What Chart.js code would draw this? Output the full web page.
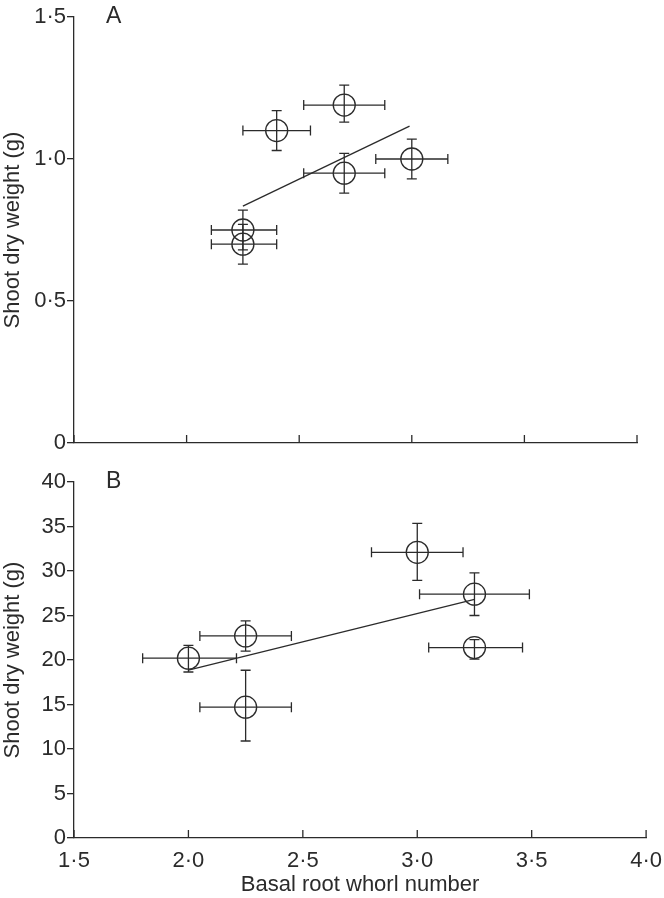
<!DOCTYPE html>
<html lang="en">
<head>
<meta charset="UTF-8">
<title>Shoot dry weight vs basal root whorl number</title>
<script src="https://cdn.jsdelivr.net/npm/chart.js@4.4.1/dist/chart.umd.min.js"></script>
<style>
    html, body { margin: 0; padding: 0; background: #fff; }
    #wrap { position: relative; width: 664px; height: 898px; }
    #wrap canvas { position: absolute; left: 0; }
    #chartA { top: 0; }
    #chartB { top: 460px; }
</style>
</head>
<body>
<div id="wrap">
    <canvas id="chartA" width="664" height="460"></canvas>
    <canvas id="chartB" width="664" height="438"></canvas>
</div>

<script>
// ---- panel A ----
const xA    = [2.25, 2.25, 2.40, 2.70, 2.70, 3.00];
const yA    = [0.75, 0.70, 1.10, 1.19, 0.95, 1.00];
const xLoA  = [2.11, 2.11, 2.25, 2.52, 2.52, 2.84];
const xHiA  = [2.40, 2.40, 2.55, 2.88, 2.88, 3.16];
const yLoA  = [0.68, 0.63, 1.03, 1.13, 0.88, 0.93];
const yHiA  = [0.82, 0.77, 1.17, 1.26, 1.02, 1.07];
const fitXA = [2.25, 2.99];
const fitYA = [0.834, 1.116];
const yTicksA = [0, 0.5, 1.0, 1.5];

// ---- panel B ----
const xB    = [2.00, 2.25, 2.25, 3.00, 3.25, 3.25];
const yB    = [20.2, 22.7, 14.7, 32.1, 27.4, 21.4];
const xLoB  = [1.80, 2.05, 2.05, 2.80, 3.01, 3.05];
const xHiB  = [2.21, 2.45, 2.45, 3.20, 3.49, 3.46];
const yLoB  = [18.65, 21.0, 10.9, 28.95, 25.0, 20.1];
const yHiB  = [21.65, 24.4, 18.85, 35.35, 29.8, 22.3];
const fitXB = [2.00, 3.25];
const fitYB = [18.85, 26.8];
const yTicksB = [0, 5, 10, 15, 20, 25, 30, 35, 40];

const xTicks = [1.5, 2.0, 2.5, 3.0, 3.5, 4.0];

const ink = '#2b2b2b';
const fam = '"Liberation Sans", Arial, Helvetica, sans-serif';

function dotNum(v) {
    if (v === 0) return '0';
    return v.toFixed(1).replace('.', '\u00b7');
}

// error bars + inward x ticks + panel letter
function panelPlugin(letter, xs, ys, xLo, xHi, yLo, yHi) {
    return {
        id: 'panel' + letter,
        beforeDatasetsDraw(chart) {
            const ctx = chart.ctx;
            const sx = chart.scales.x, sy = chart.scales.y;
            const cap = 5;
            ctx.save();
            ctx.strokeStyle = ink;
            ctx.lineWidth = 1.3;
            for (let i = 0; i < xs.length; i++) {
                const px = sx.getPixelForValue(xs[i]);
                const py = sy.getPixelForValue(ys[i]);
                const x1 = sx.getPixelForValue(xLo[i]);
                const x2 = sx.getPixelForValue(xHi[i]);
                const y1 = sy.getPixelForValue(yLo[i]);
                const y2 = sy.getPixelForValue(yHi[i]);
                ctx.beginPath();
                ctx.moveTo(x1, py); ctx.lineTo(x2, py);
                ctx.moveTo(x1, py - cap); ctx.lineTo(x1, py + cap);
                ctx.moveTo(x2, py - cap); ctx.lineTo(x2, py + cap);
                ctx.moveTo(px, y1); ctx.lineTo(px, y2);
                ctx.moveTo(px - cap, y1); ctx.lineTo(px + cap, y1);
                ctx.moveTo(px - cap, y2); ctx.lineTo(px + cap, y2);
                ctx.stroke();
            }
            ctx.restore();
        },
        afterDraw(chart) {
            const ctx = chart.ctx;
            const sx = chart.scales.x;
            const area = chart.chartArea;
            ctx.save();
            ctx.strokeStyle = ink;
            ctx.lineWidth = 1.3;
            ctx.beginPath();
            sx.ticks.forEach(t => {
                const px = sx.getPixelForValue(t.value);
                ctx.moveTo(px, area.bottom);
                ctx.lineTo(px, area.bottom - 8);
            });
            ctx.stroke();
            ctx.fillStyle = ink;
            ctx.font = '23px ' + fam;
            ctx.textBaseline = 'middle';
            ctx.textAlign = 'left';
            ctx.fillText(letter, area.left + 32, area.top);
            ctx.restore();
        }
    };
}

function makePanel(id, letter, xs, ys, xLo, xHi, yLo, yHi, fitX, fitY, yTicks, cfg) {
    const pts = xs.map((x, i) => ({ x: x, y: ys[i] }));
    const fit = fitX.map((x, i) => ({ x: x, y: fitY[i] }));
    return new Chart(document.getElementById(id), {
        type: 'scatter',
        data: {
            datasets: [{
                data: pts,
                pointStyle: 'circle',
                pointRadius: 11,
                pointHoverRadius: 11,
                backgroundColor: 'rgba(0,0,0,0)',
                borderColor: ink,
                borderWidth: 1.3
            }, {
                type: 'line',
                data: fit,
                borderColor: ink,
                borderWidth: 1.3,
                pointRadius: 0,
                fill: false
            }]
        },
        options: {
            responsive: false,
            animation: false,
            events: [],
            layout: { padding: cfg.padding },
            plugins: { legend: { display: false }, tooltip: { enabled: false } },
            scales: {
                x: {
                    type: 'linear',
                    min: 1.5, max: 4.0,
                    afterBuildTicks: s => { s.ticks = xTicks.map(v => ({ value: v })); },
                    afterFit: s => { s.height = cfg.xHeight; },
                    grid: { display: false },
                    border: { display: true, color: ink, width: 1.3 },
                    ticks: {
                        display: cfg.xLabels,
                        color: ink,
                        padding: 2,
                        font: { family: fam, size: 22 },
                        maxRotation: 0,
                        callback: v => dotNum(v)
                    },
                    title: {
                        display: cfg.xLabels,
                        text: 'Basal root whorl number',
                        color: ink,
                        font: { family: fam, size: 22 },
                        padding: { top: 0, bottom: 0 }
                    }
                },
                y: {
                    type: 'linear',
                    min: yTicks[0], max: yTicks[yTicks.length - 1],
                    afterBuildTicks: s => { s.ticks = yTicks.map(v => ({ value: v })); },
                    afterFit: s => { s.width = 74; },
                    grid: {
                        display: true,
                        drawOnChartArea: false,
                        drawTicks: true,
                        tickLength: 7,
                        color: ink,
                        lineWidth: 1.3
                    },
                    border: { display: true, color: ink, width: 1.3 },
                    ticks: {
                        color: ink,
                        padding: 1,
                        font: { family: fam, size: 22 },
                        callback: cfg.yFmt
                    },
                    title: {
                        display: true,
                        text: 'Shoot dry weight (g)',
                        color: ink,
                        font: { family: fam, size: 22 },
                        padding: { top: 0, bottom: 0 }
                    }
                }
            }
        },
        plugins: [panelPlugin(letter, xs, ys, xLo, xHi, yLo, yHi)]
    });
}

makePanel('chartA', 'A', xA, yA, xLoA, xHiA, yLoA, yHiA, fitXA, fitYA, yTicksA, {
    padding: { top: 17, right: 27, left: 0, bottom: 0 },
    xHeight: 17,
    xLabels: false,
    yFmt: v => dotNum(v)
});

makePanel('chartB', 'B', xB, yB, xLoB, xHiB, yLoB, yHiB, fitXB, fitYB, yTicksB, {
    padding: { top: 22, right: 17, left: 0, bottom: 0 },
    xHeight: 60,
    xLabels: true,
    yFmt: v => String(v)
});
</script>
</body>
</html>
